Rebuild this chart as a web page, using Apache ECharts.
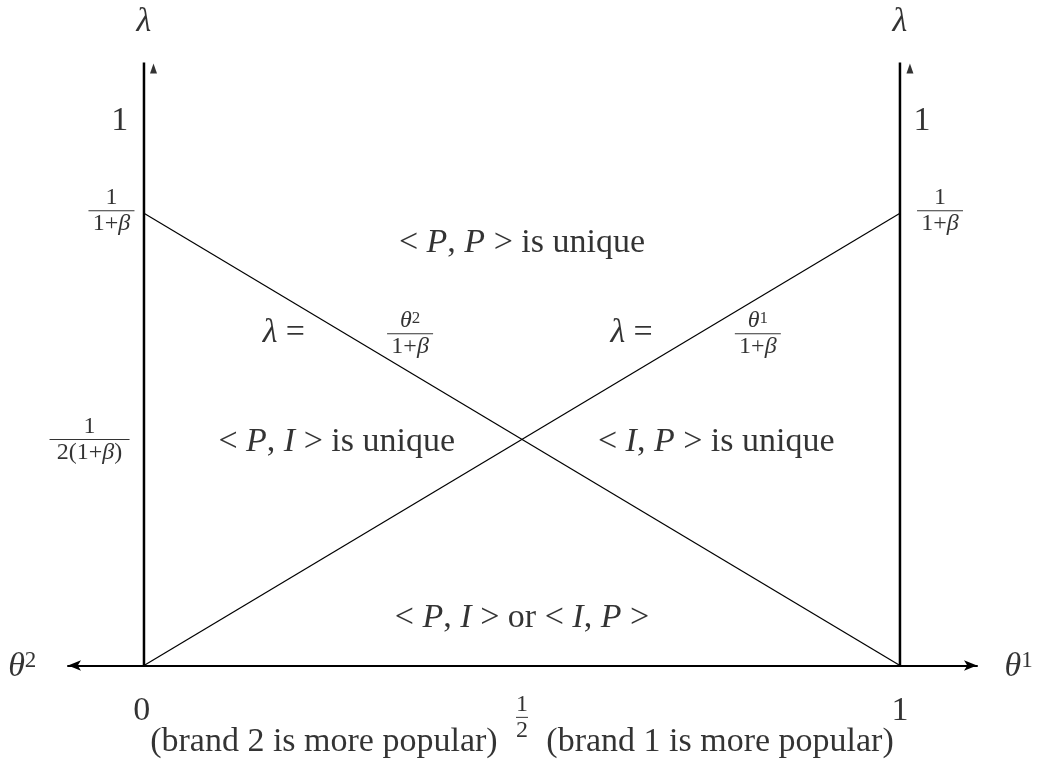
<!DOCTYPE html>
<html>
<head>
<meta charset="utf-8">
<script src="https://cdn.jsdelivr.net/npm/echarts@6/dist/echarts.min.js"></script>
<style>
html, body { margin: 0; padding: 0; background: #fff; }
#chart { width: 1040px; height: 766px; }
</style>
</head>
<body>
<div id="chart"></div>
<script>
// theta^1 runs right from 0 to 1, theta^2 runs left; lambda is vertical
var thetaEnds   = [0, 1];
var lambdaEnds  = [0, 1];
var lineDown    = [0.75, 0];   // lambda = theta^2/(1+beta)
var lineUp      = [0, 0.75];   // lambda = theta^1/(1+beta)

// annotation texts (rich text) and the (theta, lambda) point each one sits on
var noteTexts = [
    '{i|λ}', '{i|λ}',
    '{r|1}', '{r|1}',
    '{fn|1}\n{bar|}\n{fn|1+}{fi|β}',
    '{fn|1}\n{bar|}\n{fn|1+}{fi|β}',
    '{fn|1}\n{barW|}\n{fn|2(1+}{fi|β}{fn|)}',
    '{r|< }{i|P}{r|, }{i|P}{r| > is unique}',
    '{i|λ}{r| =}',
    '{fi|θ}{fs|2}\n{bar|}\n{fn|1+}{fi|β}',
    '{i|λ}{r| =}',
    '{fi|θ}{fs|1}\n{bar|}\n{fn|1+}{fi|β}',
    '{r|< }{i|P}{r|, }{i|I}{r| > is unique}',
    '{r|< }{i|I}{r|, }{i|P}{r| > is unique}',
    '{r|< }{i|P}{r|, }{i|I}{r| > or < }{i|I}{r|, }{i|P}{r| >}',
    '{i|θ}{s|2}', '{i|θ}{s|1}',
    '{r|0}', '{r|1}',
    '{fn|1}\n{barS|}\n{fn|2}',
    '{r|(brand 2 is more popular)}',
    '{r|(brand 1 is more popular)}'
];
var noteAt = [
    [0, 1.067], [1, 1.067],
    [-0.032, 0.903], [1.029, 0.903],
    [-0.043, 0.754], [1.053, 0.754],
    [-0.072, 0.375],
    [0.5, 0.70],
    [0.185, 0.551], [0.352, 0.550],
    [0.645, 0.551], [0.812, 0.550],
    [0.255, 0.371], [0.757, 0.371],
    [0.5, 0.079],
    [-0.161, -0.003], [1.157, -0.003],
    [-0.003, -0.075], [1.0, -0.075],
    [0.5, -0.086],
    [0.238, -0.127], [0.762, -0.127]
];

var serif = '"Liberation Serif", "DejaVu Serif", serif';
var rich = {
    r:    { fontFamily: serif, fontSize: 34, color: '#000', lineHeight: 36 },
    i:    { fontFamily: serif, fontSize: 34, fontStyle: 'italic', color: '#000', lineHeight: 36 },
    s:    { fontFamily: serif, fontSize: 23, color: '#000', verticalAlign: 'top', lineHeight: 36 },
    fn:   { fontFamily: serif, fontSize: 24, color: '#000', lineHeight: 21 },
    fi:   { fontFamily: serif, fontSize: 24, fontStyle: 'italic', color: '#000', lineHeight: 21 },
    fs:   { fontFamily: serif, fontSize: 17, color: '#000', verticalAlign: 'top', lineHeight: 21 },
    bar:  { width: 46, height: 1, lineHeight: 5, backgroundColor: '#000' },
    barW: { width: 80, height: 1, lineHeight: 5, backgroundColor: '#000' },
    barS: { width: 12, height: 1, lineHeight: 5, backgroundColor: '#000' }
};

var notes = [];
noteTexts.forEach(function (t, k) {
    notes.push({ value: noteAt[k], label: { formatter: t } });
});

function seg(xs, ys) {
    return [[xs[0], ys[0]], [xs[1], ys[1]]];
}

var chart = echarts.init(document.getElementById('chart'));
var option = {
    backgroundColor: '#fff',
    animation: false,
    grid: { left: 68, right: 63, top: 62.5, bottom: 100.5 },
    xAxis: {
        type: 'value',
        min: -0.1005,
        max: 1.1019,
        axisLine: {
            show: true,
            onZero: true,
            symbol: ['arrow', 'arrow'],
            symbolSize: [8, 13],
            lineStyle: { color: '#000', width: 2 }
        },
        axisTick: { show: false },
        axisLabel: { show: false },
        splitLine: { show: false }
    },
    yAxis: {
        type: 'value',
        min: 0,
        max: 1,
        show: false
    },
    series: [
        {
            // lambda axis at theta = 0
            type: 'line',
            data: seg([thetaEnds[0], thetaEnds[0]], lambdaEnds),
            symbol: 'none',
            lineStyle: { color: '#000', width: 2.5 }
        },
        {
            // lambda axis at theta = 1
            type: 'line',
            data: seg([thetaEnds[1], thetaEnds[1]], lambdaEnds),
            symbol: 'none',
            lineStyle: { color: '#000', width: 2.5 }
        },
        {
            type: 'line',
            data: seg(thetaEnds, lineDown),
            symbol: 'none',
            lineStyle: { color: '#000', width: 1.2 }
        },
        {
            type: 'line',
            data: seg(thetaEnds, lineUp),
            symbol: 'none',
            lineStyle: { color: '#000', width: 1.2 }
        },
        {
            // small arrow heads beside the tops of the lambda axes
            type: 'scatter',
            data: [[thetaEnds[0] + 0.0126, 0.99], [thetaEnds[1] + 0.0132, 0.99]],
            symbol: 'triangle',
            symbolSize: [7, 10],
            itemStyle: { color: '#000' },
            clip: false
        },
        {
            type: 'scatter',
            data: notes,
            symbolSize: 0,
            clip: false,
            label: {
                show: true,
                position: 'inside',
                align: 'center',
                verticalAlign: 'middle',
                rich: rich
            }
        }
    ]
};
chart.setOption(option);
</script>
</body>
</html>
